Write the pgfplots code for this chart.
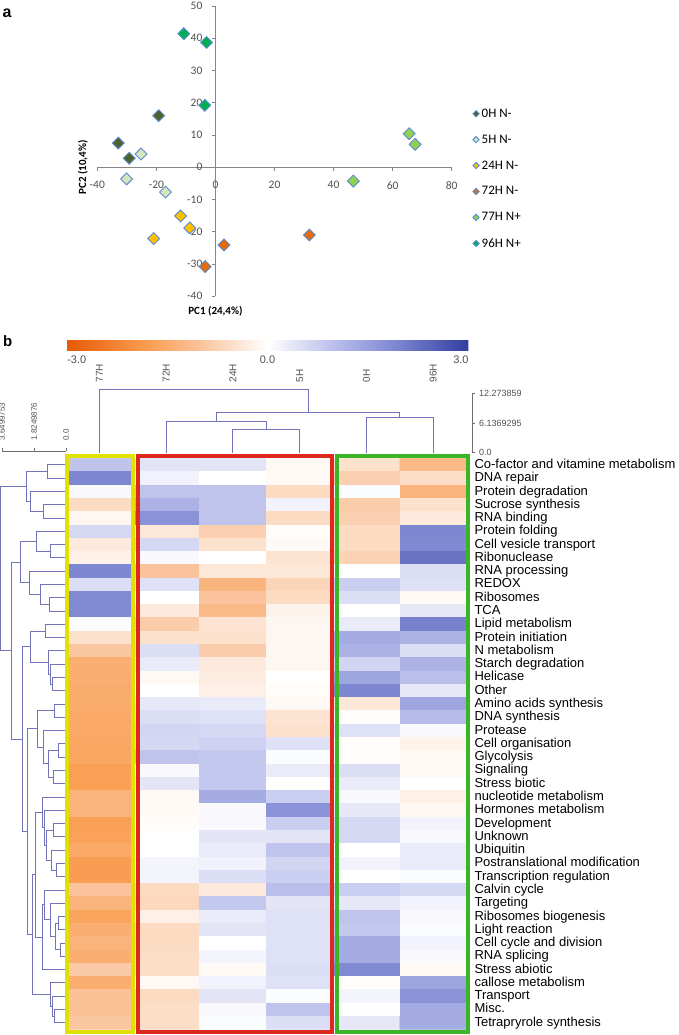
\documentclass[border=0pt]{standalone}
\usepackage{fontspec}
\setmainfont{Liberation Sans}
\newfontfamily\calibri{Carlito}
\usepackage{pgfplots}
\usepackage{pgfplotstable}
\pgfplotsset{compat=1.18}

\definecolor{axgray}{RGB}{134,134,134}
\definecolor{tickgray}{RGB}{80,80,80}
\definecolor{mkborder}{RGB}{90,140,210}
\definecolor{c0H}{RGB}{79,98,40}
\definecolor{c5H}{RGB}{215,228,189}
\definecolor{c24H}{RGB}{255,192,0}
\definecolor{c72H}{RGB}{228,108,10}
\definecolor{c77H}{RGB}{146,208,80}
\definecolor{c96H}{RGB}{0,176,80}
\definecolor{dendro}{RGB}{115,115,185}
\definecolor{frameY}{RGB}{225,225,0}
\definecolor{frameR}{RGB}{220,40,30}
\definecolor{frameG}{RGB}{60,180,40}
\definecolor{scalegray}{RGB}{110,110,110}

\pgfplotsset{
  pca/.style={only marks, mark=square*, mark size=4.2pt,
    mark options={rotate=45, fill=#1, draw=mkborder, line width=0.9pt}},
  dlink/.style={draw=dendro, line width=0.9pt, mark=none},
}

% heatmap values: x = column (0=77H,1=72H,2=24H,3=5H,4=0H,5=96H), y = row
\pgfplotstableread[row sep=\\]{
x y c\\
0 1 0.9\\ 1 1 0.4\\ 2 1 0.4\\ 3 1 -0.1\\ 4 1 -0.5\\ 5 1 -1.2\\
0 2 1.9\\ 1 2 0.2\\ 2 2 0.0\\ 3 2 -0.1\\ 4 2 -0.8\\ 5 2 -0.55\\
0 3 0.1\\ 1 3 0.9\\ 2 3 0.9\\ 3 3 -0.6\\ 4 3 0.05\\ 5 3 -1.35\\
0 4 -0.6\\ 1 4 1.2\\ 2 4 0.9\\ 3 4 0.2\\ 4 4 -0.85\\ 5 4 -0.5\\
0 5 -0.15\\ 1 5 1.7\\ 2 5 0.9\\ 3 5 -0.6\\ 4 5 -0.8\\ 5 5 -0.35\\
0 6 0.6\\ 1 6 -0.4\\ 2 6 -0.8\\ 3 6 -0.05\\ 4 6 -0.6\\ 5 6 1.9\\
0 7 -0.35\\ 1 7 0.6\\ 2 7 -0.5\\ 3 7 -0.1\\ 4 7 -0.6\\ 5 7 1.85\\
0 8 -0.25\\ 1 8 0.1\\ 2 8 0.0\\ 3 8 -0.45\\ 4 8 -0.75\\ 5 8 2.2\\
0 9 1.9\\ 1 9 -1.0\\ 2 9 -0.4\\ 3 9 -0.4\\ 4 9 0.0\\ 5 9 0.5\\
0 10 0.5\\ 1 10 0.45\\ 2 10 -1.3\\ 3 10 -0.7\\ 4 10 0.75\\ 5 10 0.45\\
0 11 1.85\\ 1 11 0.0\\ 2 11 -1.0\\ 3 11 -0.6\\ 4 11 0.5\\ 5 11 -0.1\\
0 12 1.85\\ 1 12 -0.35\\ 2 12 -1.2\\ 3 12 -0.2\\ 4 12 0.0\\ 5 12 0.35\\
0 13 0.05\\ 1 13 -0.85\\ 2 13 -0.45\\ 3 13 -0.15\\ 4 13 0.3\\ 5 13 2.0\\
0 14 -0.5\\ 1 14 -0.5\\ 2 14 -0.5\\ 3 14 -0.15\\ 4 14 1.3\\ 5 14 1.2\\
0 15 -0.95\\ 1 15 0.5\\ 2 15 -0.85\\ 3 15 -0.15\\ 4 15 1.2\\ 5 15 0.5\\
0 16 -1.45\\ 1 16 0.3\\ 2 16 -0.35\\ 3 16 -0.15\\ 4 16 0.65\\ 5 16 1.2\\
0 17 -1.45\\ 1 17 -0.1\\ 2 17 -0.3\\ 3 17 0.0\\ 4 17 1.4\\ 5 17 1.0\\
0 18 -1.5\\ 1 18 0.0\\ 2 18 -0.25\\ 3 18 -0.05\\ 4 18 1.9\\ 5 18 0.35\\
0 19 -1.5\\ 1 19 0.35\\ 2 19 0.3\\ 3 19 -0.1\\ 4 19 -0.4\\ 5 19 1.4\\
0 20 -1.55\\ 1 20 0.5\\ 2 20 0.45\\ 3 20 -0.45\\ 4 20 -0.03\\ 5 20 1.05\\
0 21 -1.55\\ 1 21 0.65\\ 2 21 0.6\\ 3 21 -0.5\\ 4 21 0.45\\ 5 21 0.1\\
0 22 -1.6\\ 1 22 0.6\\ 2 22 0.7\\ 3 22 0.45\\ 4 22 -0.05\\ 5 22 -0.2\\
0 23 -1.6\\ 1 23 0.9\\ 2 23 0.85\\ 3 23 0.05\\ 4 23 -0.05\\ 5 23 -0.1\\
0 24 -1.75\\ 1 24 0.1\\ 2 24 0.85\\ 3 24 0.3\\ 4 24 0.5\\ 5 24 -0.1\\
0 25 -1.75\\ 1 25 0.4\\ 2 25 0.85\\ 3 25 0.0\\ 4 25 0.3\\ 5 25 0.0\\
0 26 -1.35\\ 1 26 -0.1\\ 2 26 1.3\\ 3 26 0.75\\ 4 26 0.1\\ 5 26 -0.25\\
0 27 -1.35\\ 1 27 -0.1\\ 2 27 0.1\\ 3 27 1.7\\ 4 27 0.35\\ 5 27 -0.15\\
0 28 -1.75\\ 1 28 -0.05\\ 2 28 0.1\\ 3 28 0.75\\ 4 28 0.6\\ 5 28 0.2\\
0 29 -1.7\\ 1 29 0.0\\ 2 29 0.4\\ 3 29 0.4\\ 4 29 0.6\\ 5 29 0.1\\
0 30 -1.55\\ 1 30 0.0\\ 2 30 0.3\\ 3 30 0.9\\ 4 30 0.0\\ 5 30 0.3\\
0 31 -1.8\\ 1 31 0.15\\ 2 31 0.2\\ 3 31 0.65\\ 4 31 0.2\\ 5 31 0.3\\
0 32 -1.8\\ 1 32 0.15\\ 2 32 0.5\\ 3 32 0.75\\ 4 32 0.0\\ 5 32 0.05\\
0 33 -1.0\\ 1 33 -0.6\\ 2 33 -0.35\\ 3 33 1.0\\ 4 33 0.75\\ 5 33 0.6\\
0 34 -1.35\\ 1 34 -0.65\\ 2 34 0.85\\ 3 34 0.4\\ 4 34 0.35\\ 5 34 0.2\\
0 35 -1.65\\ 1 35 -0.25\\ 2 35 0.3\\ 3 35 0.45\\ 4 35 0.9\\ 5 35 0.1\\
0 36 -1.45\\ 1 36 -0.6\\ 2 36 0.4\\ 3 36 0.45\\ 4 36 0.85\\ 5 36 0.05\\
0 37 -1.35\\ 1 37 -0.6\\ 2 37 0.0\\ 3 37 0.45\\ 4 37 1.3\\ 5 37 0.2\\
0 38 -1.45\\ 1 38 -0.55\\ 2 38 0.15\\ 3 38 0.45\\ 4 38 1.3\\ 5 38 0.1\\
0 39 -0.9\\ 1 39 -0.55\\ 2 39 -0.1\\ 3 39 0.5\\ 4 39 1.85\\ 5 39 -0.1\\
0 40 -1.45\\ 1 40 -0.1\\ 2 40 0.2\\ 3 40 0.45\\ 4 40 -0.05\\ 5 40 1.4\\
0 41 -1.05\\ 1 41 -0.6\\ 2 41 0.4\\ 3 41 0.05\\ 4 41 0.15\\ 5 41 1.7\\
0 42 -1.05\\ 1 42 -0.55\\ 2 42 0.1\\ 3 42 0.9\\ 4 42 0.0\\ 5 42 1.3\\
0 43 -0.95\\ 1 43 -0.55\\ 2 43 0.05\\ 3 43 0.5\\ 4 43 0.35\\ 5 43 1.3\\
}\heatdata

\begin{document}
\begin{tikzpicture}
\path[use as bounding box] (0pt,0pt) rectangle (679pt,-1035pt);

\node[anchor=base west, inner sep=0pt, font=\bfseries\fontsize{16}{18}\selectfont] at (2.5pt,-17.3pt) {a};
\node[anchor=base west, inner sep=0pt, font=\bfseries\fontsize{15}{18}\selectfont] at (3pt,-346.7pt) {b};

% ---------------- panel a: PCA scatter ----------------
\begin{axis}[
  at={(97.3pt,-296.3pt)}, anchor=south west,
  scale only axis, width=354.4pt, height=290.3pt,
  xmin=-40, xmax=80, ymin=-40, ymax=50,
  axis lines=middle,
  axis line style={-, draw=axgray, line width=0.8pt},
  xtick={-40,-20,0,20,40,60,80},
  ytick={-40,-30,-20,-10,0,10,20,30,40,50},
  hide obscured x ticks=false, hide obscured y ticks=false,
  tick align=outside, major tick length=3.5pt,
  tick style={draw=axgray, line width=0.8pt},
  ticklabel style={font=\calibri\fontsize{11.5}{13}\selectfont, text=tickgray},
  /pgf/number format/assume math mode=true,
  xticklabel shift=7pt, yticklabel shift=6pt,
  xlabel={PC1 (24,4\%)}, ylabel={PC2 (10,4\%)},
  every axis x label/.style={at={(axis description cs:0.3333,-0.0506)}, anchor=center, font=\calibri\bfseries\fontsize{11}{13}\selectfont},
  every axis y label/.style={at={(axis description cs:-0.0404,0.4444)}, anchor=center, rotate=90, font=\calibri\bfseries\fontsize{11}{13}\selectfont},
  legend style={at={(1.0594,0.650)}, anchor=north west, draw=none, fill=none,
    inner sep=0pt, row sep=14pt, column sep=1.5pt,
    font=\calibri\fontsize{13}{15}\selectfont, nodes={inner sep=1pt}},
  legend cell align=left,
  legend image code/.code={\draw[#1, mark size=2.2pt] plot coordinates {(0pt,0pt)};},
  clip=false,
]
\addplot[pca=c0H] coordinates {(-19.2,16.0) (-32.9,7.5) (-29.2,2.8)};
\addlegendentry{0H N-}
\addplot[pca=c5H] coordinates {(-25.2,4.1) (-30.1,-3.6) (-16.9,-7.7)};
\addlegendentry{5H N-}
\addplot[pca=c24H] coordinates {(-11.8,-15.1) (-8.7,-18.8) (-20.9,-22.1)};
\addlegendentry{24H N-}
\addplot[pca=c72H] coordinates {(2.9,-24.1) (-3.5,-30.8) (31.8,-21.0)};
\addlegendentry{72H N-}
\addplot[pca=c77H] coordinates {(65.6,10.4) (67.6,7.1) (46.7,-4.3)};
\addlegendentry{77H N+}
\addplot[pca=c96H] coordinates {(-10.7,41.4) (-3.0,38.7) (-3.6,19.2)};
\addlegendentry{96H N+}
\end{axis}

% ---------------- panel b: top dendrogram (columns) ----------------
\begin{axis}[
  at={(66pt,-452.7pt)}, anchor=south west,
  scale only axis, width=406pt, height=59.4pt,
  xmin=-0.5, xmax=5.58, ymin=0, ymax=12.273859,
  axis x line*=top, axis y line*=right,
  x axis line style={draw=none},
  y axis line style={-, draw=scalegray, line width=0.8pt},
  xtick={0,1,2,3,4,5}, xticklabels={77H,72H,24H,5H,0H,96H},
  xtick style={draw=none},
  xticklabel style={rotate=90, anchor=west, font=\fontsize{10}{12}\selectfont, text=tickgray},
  xticklabel shift=5pt,
  ytick={0,6.1369295,12.273859}, yticklabels={0.0,6.1369295,12.273859},
  ytick style={draw=scalegray, line width=0.8pt},
  tick align=outside, major tick length=2.5pt,
  yticklabel style={font=\fontsize{9}{10}\selectfont, anchor=west, text=tickgray},
  yticklabel shift=1pt,
  clip=false,
]
\addplot[dlink] coordinates {(2,0) (2,4.83) (3,4.83) (3,0)};
\addplot[dlink] coordinates {(1,0) (1,6.4) (2.5,6.4) (2.5,4.83)};
\addplot[dlink] coordinates {(4,0) (4,7.23) (5,7.23) (5,0)};
\addplot[dlink] coordinates {(1.75,6.4) (1.75,8.26) (4.5,8.26) (4.5,7.23)};
\addplot[dlink] coordinates {(0,0) (0,13.1) (3.125,13.1) (3.125,8.26)};
\end{axis}

% ---------------- panel b: left dendrogram (rows) ----------------
\begin{axis}[
  at={(2pt,-451pt)}, anchor=north west,
  scale only axis, width=64pt, height=578.4pt,
  xmin=0, xmax=3.6499753, x dir=reverse,
  ymin=-43.5, ymax=0.05,
  axis x line*=top, axis y line=none,
  x axis line style={-, draw=scalegray, line width=0.8pt},
  xtick={0,1.8249876,3.6499753}, xticklabels={0.0,1.8249876,3.6499753},
  xtick style={draw=scalegray, line width=0.8pt},
  tick align=outside, major tick length=3pt,
  xticklabel style={rotate=90, anchor=west, font=\fontsize{8}{9}\selectfont, text=tickgray},
  xticklabel shift=4pt,
  clip=false,
]
% cluster rows 1-5
\addplot[dlink] coordinates {(0,-1) (1.04,-1) (1.04,-2) (0,-2)};
\addplot[dlink] coordinates {(0,-4) (1.29,-4) (1.29,-5) (0,-5)};
\addplot[dlink] coordinates {(0,-3) (2.01,-3) (2.01,-4.5) (1.29,-4.5)};
\addplot[dlink] coordinates {(1.04,-1.5) (2.28,-1.5) (2.28,-3.75) (2.01,-3.75)};
% rows 6-12
\addplot[dlink] coordinates {(0,-7) (0.87,-7) (0.87,-8) (0,-8)};
\addplot[dlink] coordinates {(0,-6) (1.67,-6) (1.67,-7.5) (0.87,-7.5)};
\addplot[dlink] coordinates {(0,-11) (0.95,-11) (0.95,-12) (0,-12)};
\addplot[dlink] coordinates {(0,-10) (1.48,-10) (1.48,-11.5) (0.95,-11.5)};
\addplot[dlink] coordinates {(0,-9) (2.09,-9) (2.09,-10.75) (1.48,-10.75)};
\addplot[dlink] coordinates {(1.67,-6.75) (2.57,-6.75) (2.57,-9.875) (2.09,-9.875)};
% rows 13-18
\addplot[dlink] coordinates {(0,-13) (1.20,-13) (1.20,-14) (0,-14)};
\addplot[dlink] coordinates {(0,-17) (0.76,-17) (0.76,-18) (0,-18)};
\addplot[dlink] coordinates {(0,-16) (0.91,-16) (0.91,-17.5) (0.76,-17.5)};
\addplot[dlink] coordinates {(0,-15) (1.01,-15) (1.01,-16.75) (0.91,-16.75)};
\addplot[dlink] coordinates {(1.20,-13.5) (2.01,-13.5) (2.01,-15.875) (1.01,-15.875)};
% rows 19-25
\addplot[dlink] coordinates {(0,-19) (0.68,-19) (0.68,-20) (0,-20)};
\addplot[dlink] coordinates {(0,-22) (0.44,-22) (0.44,-23) (0,-23)};
\addplot[dlink] coordinates {(0,-24) (0.72,-24) (0.72,-25) (0,-25)};
\addplot[dlink] coordinates {(0.44,-22.5) (1.01,-22.5) (1.01,-24.5) (0.72,-24.5)};
\addplot[dlink] coordinates {(0,-21) (1.29,-21) (1.29,-23.5) (1.01,-23.5)};
\addplot[dlink] coordinates {(0.68,-19.5) (1.64,-19.5) (1.64,-22.25) (1.29,-22.25)};
% rows 26-32
\addplot[dlink] coordinates {(0,-28) (0.72,-28) (0.72,-29) (0,-29)};
\addplot[dlink] coordinates {(0,-31) (0.53,-31) (0.53,-32) (0,-32)};
\addplot[dlink] coordinates {(0,-30) (0.82,-30) (0.82,-31.5) (0.53,-31.5)};
\addplot[dlink] coordinates {(0.72,-28.5) (1.10,-28.5) (1.10,-30.75) (0.82,-30.75)};
\addplot[dlink] coordinates {(0,-27) (1.25,-27) (1.25,-29.625) (1.10,-29.625)};
\addplot[dlink] coordinates {(0,-26) (1.33,-26) (1.33,-28.3125) (1.25,-28.3125)};
% rows 33-39
\addplot[dlink] coordinates {(0,-35) (0.44,-35) (0.44,-36) (0,-36)};
\addplot[dlink] coordinates {(0,-37) (0.34,-37) (0.34,-38) (0,-38)};
\addplot[dlink] coordinates {(0.44,-35.5) (0.63,-35.5) (0.63,-37.5) (0.34,-37.5)};
\addplot[dlink] coordinates {(0,-34) (0.91,-34) (0.91,-36.5) (0.63,-36.5)};
\addplot[dlink] coordinates {(0,-33) (1.24,-33) (1.24,-35.25) (0.91,-35.25)};
\addplot[dlink] coordinates {(1.24,-34.125) (1.36,-34.125) (1.36,-39) (0,-39)};
\addplot[dlink] coordinates {(1.33,-27.156) (1.77,-27.156) (1.77,-36.5625) (1.36,-36.5625)};
% rows 40-43
\addplot[dlink] coordinates {(0,-42) (0.68,-42) (0.68,-43) (0,-43)};
\addplot[dlink] coordinates {(0,-41) (0.78,-41) (0.78,-42.5) (0.68,-42.5)};
\addplot[dlink] coordinates {(0,-40) (0.91,-40) (0.91,-41.75) (0.78,-41.75)};
% upper levels
\addplot[dlink] coordinates {(1.77,-31.859) (1.92,-31.859) (1.92,-40.875) (0.91,-40.875)};
\addplot[dlink] coordinates {(1.64,-20.875) (2.21,-20.875) (2.21,-36.367) (1.92,-36.367)};
\addplot[dlink] coordinates {(2.01,-14.6875) (2.47,-14.6875) (2.47,-28.621) (2.21,-28.621)};
\addplot[dlink] coordinates {(2.57,-8.3125) (3.10,-8.3125) (3.10,-21.654) (2.47,-21.654)};
\addplot[dlink] coordinates {(2.28,-2.625) (3.71,-2.625) (3.71,-14.983) (3.10,-14.983)};
\end{axis}

% ---------------- panel b: heatmap ----------------
\begin{axis}[
  at={(66pt,-458.3pt)}, anchor=north west,
  scale only axis, width=400.7pt, height=571.1pt,
  xmin=-0.5, xmax=5.5, ymin=0.5, ymax=43.5, y dir=reverse,
  axis line style={draw=none},
  xtick=\empty,
  ytick={1,...,43},
  yticklabels={Co-factor and vitamine metabolism, DNA repair, Protein degradation, Sucrose synthesis, RNA binding, Protein folding, Cell vesicle transport, Ribonuclease, RNA processing, REDOX, Ribosomes, TCA, Lipid metabolism, Protein initiation, N metabolism, Starch degradation, Helicase, Other, Amino acids synthesis, DNA synthesis, Protease, Cell organisation, Glycolysis, Signaling, Stress biotic, nucleotide metabolism, Hormones metabolism, Development, Unknown, Ubiquitin, Postranslational modification, Transcription regulation, Calvin cycle, Targeting, Ribosomes biogenesis, Light reaction, Cell cycle and division, RNA splicing, Stress abiotic, callose metabolism, Transport, Misc., Tetrapryrole synthesis},
  yticklabel pos=right,
  ytick style={draw=none},
  yticklabel style={font=\fontsize{13}{15}\selectfont, text height=9pt, text depth=2pt, anchor=west},
  yticklabel shift=4.3pt,
  colormap={oranblu}{rgb255(0cm)=(230,90,5); rgb255(1.25cm)=(250,160,85); rgb255(2cm)=(250,195,155); rgb255(3cm)=(255,255,255); rgb255(4cm)=(185,190,235); rgb255(4.9cm)=(125,135,210); rgb255(6cm)=(50,62,160)},
  point meta min=-3, point meta max=3,
  colorbar horizontal,
  colorbar style={at={(parent axis.north west)}, anchor=south west, xshift=0.7pt, yshift=116.3pt,
    scale only axis, width=401.6pt, height=10pt,
    xtick={-2.85,0,2.89}, xticklabels={-3.0,0.0,3.0},
    xtick style={draw=none}, axis line style={draw=none},
    xticklabel style={font=\fontsize{11}{13}\selectfont, text=tickgray},
    xticklabel shift=2pt},
]
\addplot[matrix plot*, mesh/cols=6, point meta=explicit] table[x=x, y=y, meta=c] {\heatdata};
\end{axis}

% cluster frames
\draw[frameY, line width=4pt] (67pt,-456pt) rectangle (133pt,-1032pt);
\draw[frameR, line width=4pt] (138pt,-456pt) rectangle (332pt,-1032pt);
\draw[frameG, line width=4pt] (337pt,-456pt) rectangle (468pt,-1032pt);
\end{tikzpicture}
\end{document}
